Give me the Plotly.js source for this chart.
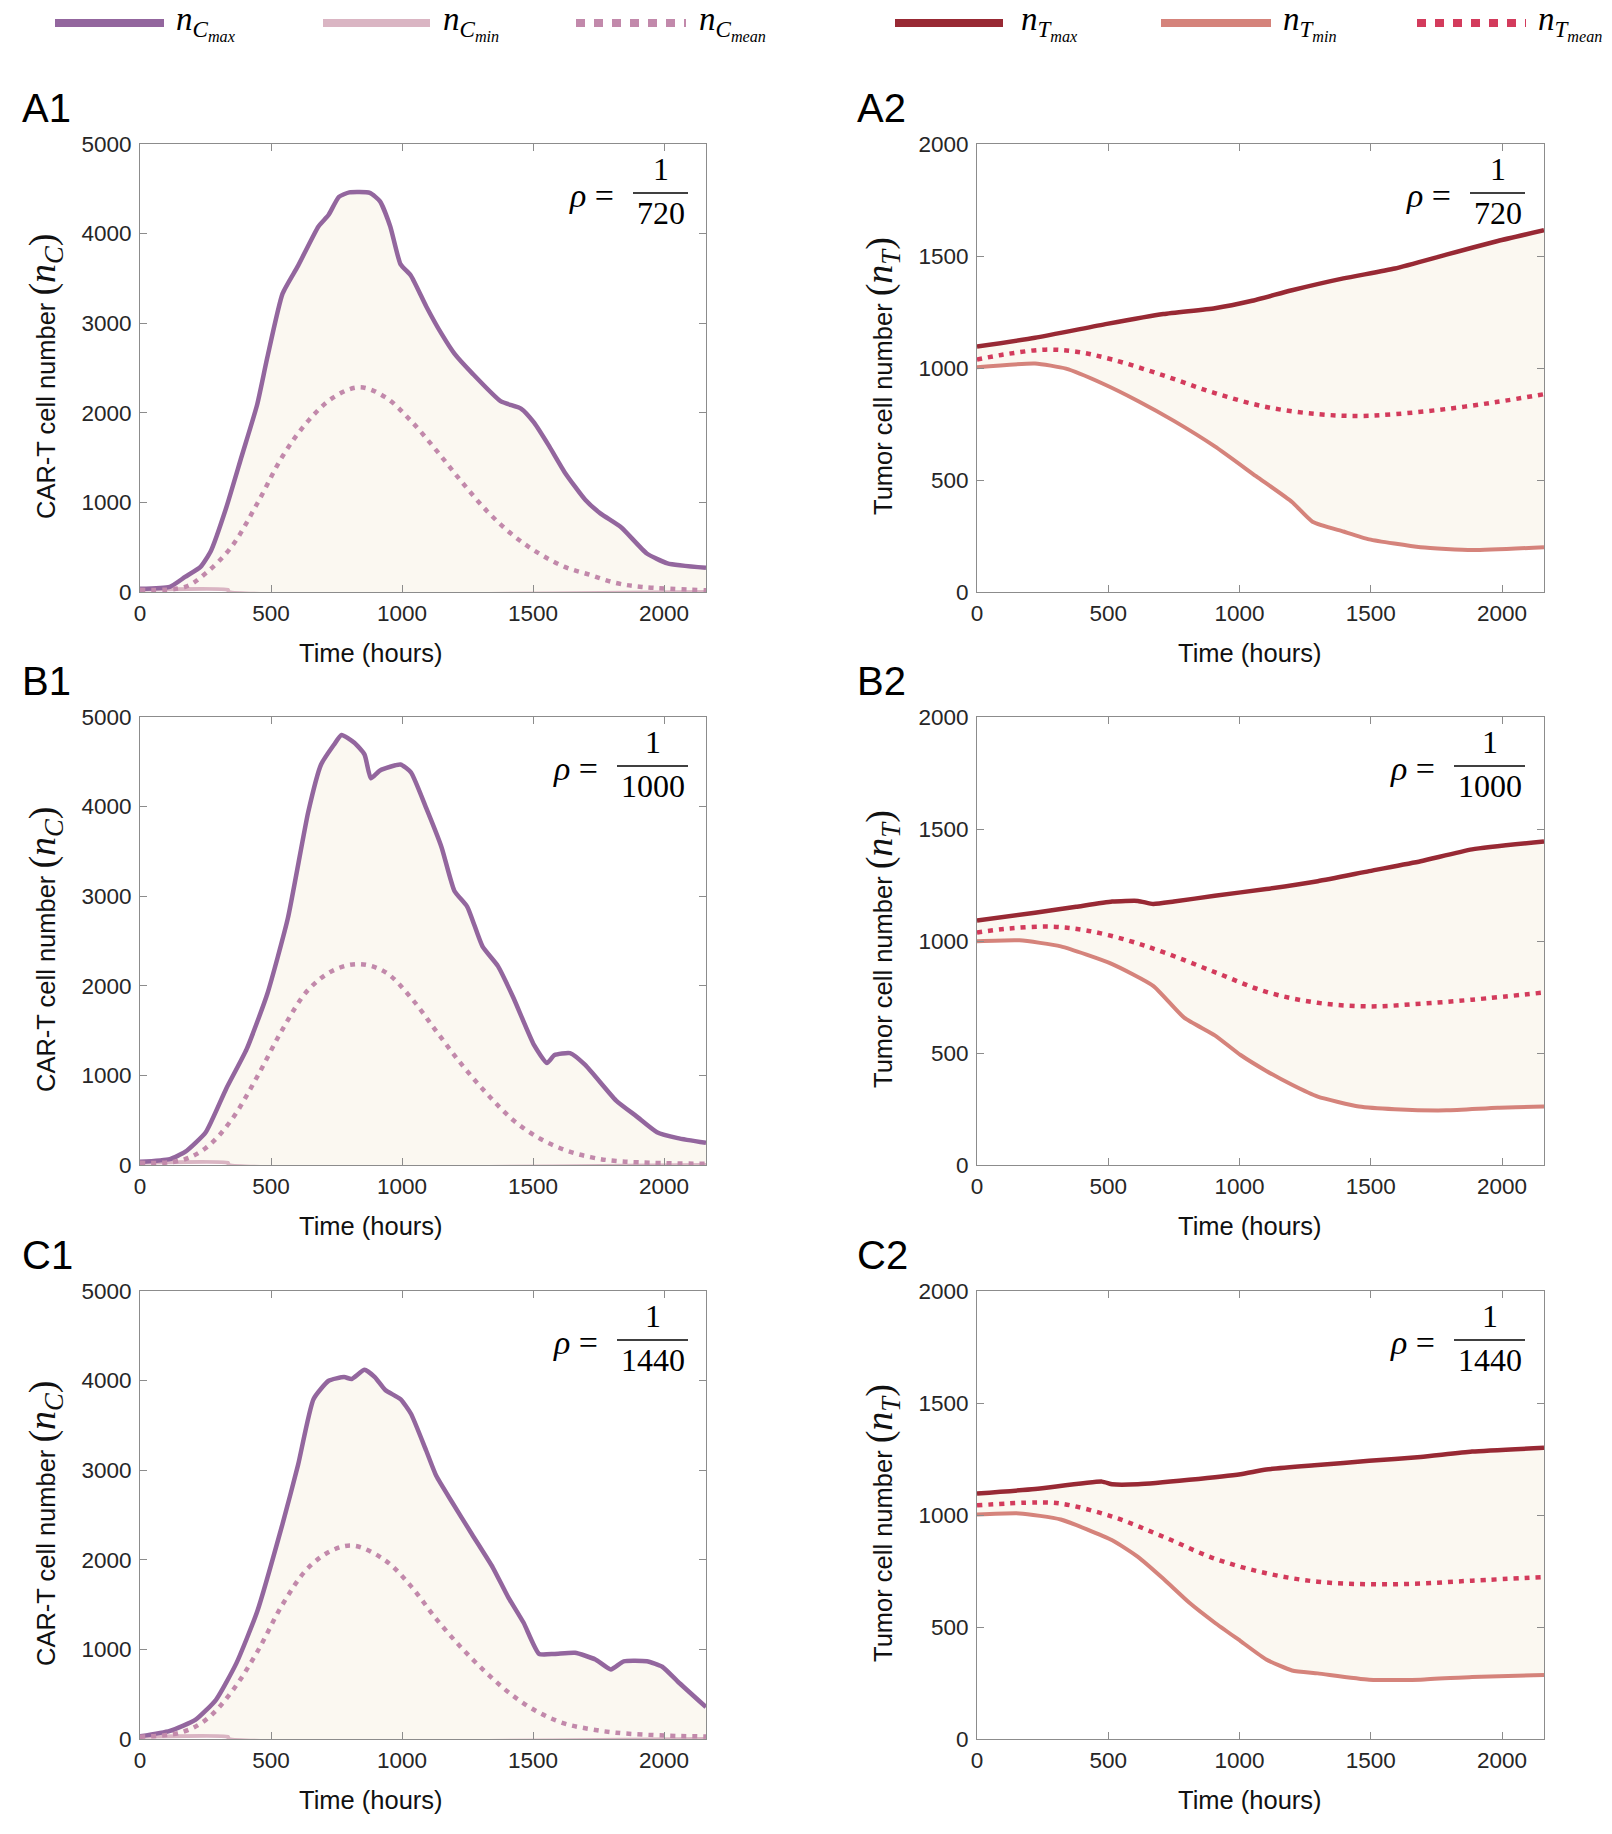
<!DOCTYPE html>
<html>
<head>
<meta charset="utf-8">
<script src="https://cdn.plot.ly/plotly-3.0.1.min.js"></script>
<style>
html,body{margin:0;padding:0;background:#fff;}
#chart{width:1612px;height:1834px;}
</style>
</head>
<body>
<div id="chart"></div>
<script>
// ---------------- DATA ----------------
// Panel A1 : CAR-T cells, rho = 1/720
const tA1max = [0,114,172,231,270,329,388,447,486,544,603,681,720,759,799,877,916,955,994,1034,1092,1151,1200,1268,1376,1455,1504,1562,1621,1699,1758,1837,1934,2013,2160];
const nA1max = [35,57,168,280,455,940,1515,2090,2620,3330,3640,4080,4210,4410,4460,4455,4360,4080,3660,3530,3190,2880,2660,2440,2130,2045,1890,1625,1335,1030,875,720,430,320,270];
const tA1mean = [0,172,251,348,447,544,642,740,838,936,1034,1131,1229,1327,1425,1523,1621,1719,1817,1915,2160];
const nA1mean = [25,57,210,500,985,1515,1910,2175,2285,2175,1910,1580,1225,895,630,430,280,190,100,57,20];
const tA1min = [0,335,340,2160];
const nA1min = [25,25,0,0];

// Panel A2 : tumor cells, rho = 1/720
const tA2max = [0,221,495,710,906,1044,1200,1396,1592,1788,1984,2160];
const nA2max = [1096,1135,1197,1241,1267,1299,1347,1400,1444,1506,1567,1615];
const tA2mean = [0,123,260,378,515,710,906,1102,1298,1455,1592,1788,1984,2160];
const nA2mean = [1038,1064,1082,1073,1038,967,888,826,794,786,794,817,849,883];
const tA2min = [0,221,339,476,613,750,906,1063,1200,1278,1396,1494,1690,1886,2160];
const nA2min = [1003,1020,997,932,853,764,650,517,402,314,270,235,200,187,200];

// Panel B1 : CAR-T cells, rho = 1/1000
const tB1max = [0,114,172,251,329,407,486,564,642,691,740,769,818,857,881,916,994,1034,1092,1151,1200,1249,1307,1366,1425,1504,1553,1582,1641,1699,1817,1895,1973,2052,2160];
const nB1max = [35,66,146,366,852,1293,1911,2750,3940,4470,4690,4800,4713,4580,4316,4404,4470,4382,3985,3544,3058,2882,2440,2220,1867,1337,1139,1227,1249,1117,719,543,366,300,247];
const tB1mean = [0,153,251,348,447,544,642,740,838,936,1034,1131,1229,1327,1425,1523,1621,1719,1817,2160];
const nB1mean = [25,49,190,499,984,1514,1955,2175,2242,2153,1867,1492,1117,786,499,300,168,88,44,13];
const tB1min = [0,335,340,2160];
const nB1min = [25,25,0,0];

// Panel B2 : tumor cells, rho = 1/1000
const tB2max = [0,221,378,515,613,671,750,906,1102,1298,1494,1690,1886,2160];
const nB2max = [1091,1126,1153,1176,1179,1165,1176,1202,1232,1267,1312,1356,1409,1444];
const tB2mean = [0,123,280,417,574,710,906,1102,1298,1494,1690,1886,2160];
const nB2mean = [1038,1056,1064,1047,1003,950,861,773,724,708,720,738,770];
const tB2min = [0,162,319,515,671,789,906,1004,1102,1200,1298,1455,1592,1788,1984,2160];
const nB2min = [999,1003,976,897,800,658,579,491,420,358,305,261,249,244,256,261];

// Panel C1 : CAR-T cells, rho = 1/1440
const tC1max = [0,114,211,290,368,447,544,603,662,720,779,808,857,896,936,994,1034,1092,1131,1190,1268,1347,1405,1464,1523,1582,1660,1738,1797,1846,1934,1993,2052,2160];
const nC1max = [29,90,213,438,847,1420,2402,3056,3793,3998,4039,4018,4120,4039,3895,3793,3630,3220,2934,2648,2280,1911,1584,1297,950,950,962,888,777,867,867,806,642,356];
const tC1mean = [0,153,251,348,447,544,642,740,818,936,1034,1131,1229,1327,1425,1523,1621,1719,1817,2013,2160];
const nC1mean = [25,70,213,520,970,1502,1911,2115,2156,1993,1706,1338,1011,724,479,295,172,110,70,37,29];
const tC1min = [0,335,340,2160];
const nC1min = [25,25,0,0];

// Panel C2 : tumor cells, rho = 1/1440
const tC2max = [0,221,476,515,613,808,1004,1102,1298,1494,1690,1886,2160];
const nC2max = [1096,1116,1149,1137,1137,1157,1182,1203,1223,1242,1259,1283,1300];
const tC2mean = [0,221,319,515,710,906,1102,1298,1494,1690,1886,2160];
const nC2mean = [1043,1056,1051,993,903,805,740,702,691,694,707,723];
const tC2min = [0,162,319,515,613,710,808,906,1004,1102,1200,1298,1494,1690,1886,2160];
const nC2min = [1002,1007,980,887,813,715,609,519,437,355,306,293,265,265,277,286];

const panelLabels = ['A1','A2','B1','B2','C1','C2'];
const rhoDenoms = ['720','720','1000','1000','1440','1440'];
const xTicks = [0,500,1000,1500,2000];
const yTicksC = [0,1000,2000,3000,4000,5000];
const yTicksT = [0,500,1000,1500,2000];
const xTitle = 'Time (hours)';
const yTitleC = 'CAR-T cell number';
const yTitleT = 'Tumor cell number';
const legendSubs = ['max','min','mean'];

// ---------------- STYLE ----------------
const COL = {
  Cmax:'#93669e', Cmin:'#dab5c3', Cmean:'#c289ab',
  Tmax:'#982934', Tmin:'#d5837b', Tmean:'#d33b5c'
};
const FILL = '#fbf8f1';
const SANS = 'Liberation Sans, Arial, Helvetica, sans-serif';
const SERIF = 'Liberation Serif, Times New Roman, serif';
const W = 1612, H = 1834;

const colPx = [[140, 706],[977, 1544]];
const rowPx = [[144, 592],[717, 1165],[1291, 1739]];
const xTitleCx = [371, 1250];

const panels = [
  {max:[tA1max,nA1max], mean:[tA1mean,nA1mean], min:[tA1min,nA1min], kind:'C'},
  {max:[tA2max,nA2max], mean:[tA2mean,nA2mean], min:[tA2min,nA2min], kind:'T'},
  {max:[tB1max,nB1max], mean:[tB1mean,nB1mean], min:[tB1min,nB1min], kind:'C'},
  {max:[tB2max,nB2max], mean:[tB2mean,nB2mean], min:[tB2min,nB2min], kind:'T'},
  {max:[tC1max,nC1max], mean:[tC1mean,nC1mean], min:[tC1min,nC1min], kind:'C'},
  {max:[tC2max,nC2max], mean:[tC2mean,nC2mean], min:[tC2min,nC2min], kind:'T'}
];

const traces = [];
const layout = {
  width: W, height: H,
  margin:{l:0,r:0,t:0,b:0},
  paper_bgcolor:'#ffffff', plot_bgcolor:'#ffffff',
  showlegend:false,
  annotations:[], shapes:[]
};
const px = v => v / W;
const py = v => 1 - v / H;

panels.forEach((p, i) => {
  const k = i + 1;
  const sfx = (k === 1 ? '' : String(k));
  const xa = 'x' + sfx, ya = 'y' + sfx;
  const col = i % 2, row = Math.floor(i / 2);
  const isC = p.kind === 'C';
  const cMax = isC ? COL.Cmax : COL.Tmax;
  const cMin = isC ? COL.Cmin : COL.Tmin;
  const cMean = isC ? COL.Cmean : COL.Tmean;

  traces.push({x:p.min[0], y:p.min[1], xaxis:xa, yaxis:ya, type:'scatter', mode:'lines',
    line:{color:cMin, width:4, shape:'spline', smoothing:0.5}, hoverinfo:'skip'});
  traces.push({x:p.max[0], y:p.max[1], xaxis:xa, yaxis:ya, type:'scatter', mode:'lines',
    fill:'tonexty', fillcolor:FILL, line:{color:cMax, width:4.5, shape:'spline', smoothing:0.5}, hoverinfo:'skip'});
  traces.push({x:p.mean[0], y:p.mean[1], xaxis:xa, yaxis:ya, type:'scatter', mode:'lines',
    line:{color:cMean, width:4.5, dash:'5px,6px', shape:'spline', smoothing:1}, hoverinfo:'skip'});

  const axBase = {
    showline:true, linecolor:'#8c8c8c', linewidth:1, mirror:'ticks',
    ticks:'inside', ticklen:7, tickcolor:'#8c8c8c', tickwidth:1,
    showgrid:false, zeroline:false,
    tickfont:{family:SANS, size:22.5, color:'#262626'}
  };
  const [xl, xr] = colPx[col], [yt, yb] = rowPx[row];
  layout['xaxis' + sfx] = Object.assign({}, axBase, {
    domain:[px(xl), px(xr)], anchor: ya, range:[0,2160],
    tickvals: xTicks, ticktext: xTicks.map(String), ticklabelstandoff: 1
  });
  const yTicks = isC ? yTicksC : yTicksT;
  layout['yaxis' + sfx] = Object.assign({}, axBase, {
    domain:[py(yb), py(yt)], anchor: xa, range: isC ? [0,5000] : [0,2000],
    tickvals: yTicks, ticktext: yTicks.map(String), ticklabelstandoff: 3
  });

  // x axis title
  layout.annotations.push({xref:'paper', yref:'paper', x:px(xTitleCx[col]), y:py(yb + 61),
    xanchor:'center', yanchor:'middle', showarrow:false, text:xTitle,
    font:{family:SANS, size:25.5, color:'#111'}});
  // y axis title (rotated)
  const sym = isC ? 'C' : 'T';
  layout.annotations.push({xref:'paper', yref:'paper', x:px(xl - 95), y:py((yt + yb) / 2 + 8),
    xanchor:'center', yanchor:'middle', showarrow:false, textangle:-90,
    text:(isC ? yTitleC : yTitleT) + ' <span style="font-family:Liberation Serif;font-size:38px">(<i>n</i><sub><i>' + sym + '</i></sub>)</span>',
    font:{family:SANS, size:25.5, color:'#111'}});

  // panel label
  layout.annotations.push({
    xref:'paper', yref:'paper', x:px(col === 0 ? 20 : 855), y:py(yt - 36),
    xanchor:'left', yanchor:'middle', showarrow:false,
    text: panelLabels[i], font:{family:SANS, size:40, color:'#000'}
  });

  // rho = 1/denom annotation
  const wide = rhoDenoms[i].length > 3;
  const lx0 = (wide ? 617 : 633) - 140, lx1 = 688 - 140;  // px within plot
  const pw = xr - xl, ph = yb - yt;
  const x0 = lx0 / pw, x1 = lx1 / pw, xc = (x0 + x1) / 2;
  const ly = (ph - 49) / ph;
  const xd = xa + ' domain', yd = ya + ' domain';
  layout.shapes.push({type:'line', xref:xd, yref:yd, x0:x0, x1:x1, y0:ly, y1:ly,
    line:{color:'#000', width:1.6}});
  layout.annotations.push({xref:xd, yref:yd, x:xc, y:ly, xanchor:'center', yanchor:'middle',
    showarrow:false, text:'1', font:{family:SERIF, size:32, color:'#000'}, yshift:24});
  layout.annotations.push({xref:xd, yref:yd, x:xc, y:ly, xanchor:'center', yanchor:'middle',
    showarrow:false, text:rhoDenoms[i], font:{family:SERIF, size:32, color:'#000'}, yshift:-20});
  layout.annotations.push({xref:xd, yref:yd, x:x0 - 8 / pw, y:ly, xanchor:'right', yanchor:'middle',
    showarrow:false, text:'<i>ρ</i> = ', font:{family:SERIF, size:34, color:'#000'}, yshift:-2});
});

// ---------------- custom legend ----------------
const legendItems = [
  {x0:55, x1:164, tx:175, color:COL.Cmax, dash:'solid', sym:'C', sub:legendSubs[0]},
  {x0:323, x1:430, tx:442, color:COL.Cmin, dash:'solid', sym:'C', sub:legendSubs[1]},
  {x0:576, x1:686, tx:698, color:COL.Cmean, dash:'9px,9px', sym:'C', sub:legendSubs[2]},
  {x0:895, x1:1003, tx:1020, color:COL.Tmax, dash:'solid', sym:'T', sub:legendSubs[0]},
  {x0:1161, x1:1271, tx:1282, color:COL.Tmin, dash:'solid', sym:'T', sub:legendSubs[1]},
  {x0:1417, x1:1526, tx:1537, color:COL.Tmean, dash:'9px,9px', sym:'T', sub:legendSubs[2]}
];
legendItems.forEach(it => {
  layout.shapes.push({type:'line', xref:'paper', yref:'paper',
    x0:px(it.x0), x1:px(it.x1), y0:py(23), y1:py(23),
    line:{color:it.color, width:8, dash:it.dash}});
  layout.annotations.push({xref:'paper', yref:'paper', x:px(it.tx), y:1,
    xanchor:'left', yanchor:'top', showarrow:false, borderpad:0,
    text:'<i>n</i><sub><i>' + it.sym + '</i><sub><i>' + it.sub + '</i></sub></sub>',
    font:{family:SERIF, size:33, color:'#000'}});
});

Plotly.newPlot('chart', traces, layout, {staticPlot:true, displayModeBar:false});
</script>
</body>
</html>
